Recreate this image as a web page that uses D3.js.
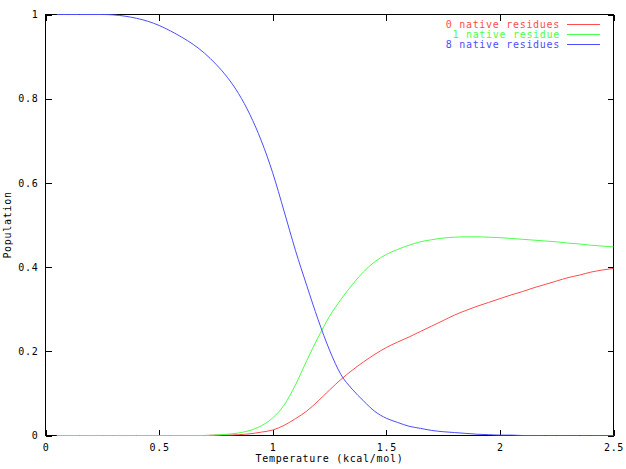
<!DOCTYPE html>
<html>
<head>
<meta charset="utf-8">
<script src="https://cdn.jsdelivr.net/npm/d3@7"></script>
<style>
  html, body { margin: 0; padding: 0; background: #fff; }
  svg { display: block; }
  text { font-family: "DejaVu Sans Mono", "Liberation Mono", monospace; font-size: 10px; letter-spacing: 0.7px; }
</style>
</head>
<body>
<svg id="chart" width="626" height="469"></svg>
<script>
// ---- data ----
const temperatures = [0.05,0.10,0.15,0.20,0.25,0.30,0.35,0.40,0.45,0.50,
  0.55,0.60,0.65,0.70,0.75,0.80,0.85,0.90,0.95,1.00,
  1.05,1.10,1.15,1.20,1.25,1.30,1.35,1.40,1.45,1.50,
  1.55,1.60,1.65,1.70,1.75,1.80,1.85,1.90,1.95,2.00,
  2.05,2.10,2.15,2.20,2.25,2.30,2.35,2.40,2.45,2.50];

const native0 = [0,0,0,0,0,0,0,0,0,0,
  0,0,0,0,0.001,0.001,0.002,0.004,0.008,0.013,
  0.024,0.040,0.058,0.082,0.108,0.133,0.155,0.175,0.193,0.209,
  0.222,0.234,0.247,0.260,0.273,0.286,0.297,0.307,0.316,0.325,
  0.334,0.342,0.351,0.359,0.367,0.375,0.381,0.388,0.393,0.397];

const native1 = [0,0,0,0,0,0,0,0,0,0,
  0,0,0,0,0.001,0.003,0.006,0.012,0.023,0.042,
  0.072,0.120,0.178,0.233,0.283,0.323,0.358,0.389,0.413,0.430,
  0.442,0.452,0.460,0.465,0.469,0.471,0.472,0.472,0.471,0.470,
  0.468,0.466,0.464,0.462,0.460,0.457,0.455,0.452,0.450,0.448];

const native8 = [1,1,1,1,1,0.999,0.996,0.991,0.984,0.974,
  0.961,0.946,0.929,0.908,0.882,0.851,0.812,0.762,0.700,0.624,
  0.533,0.440,0.356,0.275,0.203,0.145,0.110,0.082,0.057,0.041,
  0.031,0.022,0.017,0.012,0.009,0.007,0.005,0.003,0.002,0.001,
  0.001,0,0,0,0,0,0,0,0,0];

const seriesNames = ["0 native residues", "1 native residue", "8 native residues"];
const seriesColors = ["#ff4d4d", "#4dff4d", "#4d4dff"];
const seriesValues = [native0, native1, native8];

const xTicks = [0, 0.5, 1, 1.5, 2, 2.5];
const xTickLabels = ["0", "0.5", "1", "1.5", "2", "2.5"];
const yTicks = [0, 0.2, 0.4, 0.6, 0.8, 1];
const yTickLabels = ["0", "0.2", "0.4", "0.6", "0.8", "1"];

const xTitle = "Temperature (kcal/mol)";
const yTitle = "Population";

// ---- drawing ----
const svg = d3.select("#chart");
const x = d3.scaleLinear().domain([0, 2.5]).range([45.5, 613.5]);
const y = d3.scaleLinear().domain([0, 1]).range([435.5, 14.5]);

const tickLen = 6;

// bottom axis with labels
const xAxis = d3.axisBottom(x).tickValues(xTicks)
  .tickFormat((d, i) => xTickLabels[i]).tickSizeInner(-tickLen).tickSizeOuter(0).tickPadding(8.5);
const gx = svg.append("g").attr("transform", `translate(0,${y(0)})`).call(xAxis);
// top mirror
const gxt = svg.append("g").attr("transform", `translate(0,${y(1)})`)
  .call(d3.axisTop(x).tickValues(xTicks).tickFormat("").tickSizeInner(-tickLen).tickSizeOuter(0));
// left axis with labels
const yAxis = d3.axisLeft(y).tickValues(yTicks)
  .tickFormat((d, i) => yTickLabels[i]).tickSizeInner(-tickLen).tickSizeOuter(0).tickPadding(7);
const gy = svg.append("g").attr("transform", `translate(${x(0)},0)`).call(yAxis);
// right mirror
const gyr = svg.append("g").attr("transform", `translate(${x(2.5)},0)`)
  .call(d3.axisRight(y).tickValues(yTicks).tickFormat("").tickSizeInner(-tickLen).tickSizeOuter(0));

[gx, gxt, gy, gyr].forEach(g => {
  g.select(".domain").remove();
  g.selectAll(".tick line").attr("stroke", "#000").attr("shape-rendering", "crispEdges");
  g.selectAll("text").attr("fill", "#000")
    .style("font-family", "\"DejaVu Sans Mono\", monospace").style("font-size", "10px");
});

// frame
svg.append("rect")
  .attr("x", x(0)).attr("y", y(1))
  .attr("width", x(2.5) - x(0)).attr("height", y(0) - y(1))
  .attr("fill", "none").attr("stroke", "#000").attr("stroke-width", 1)
  .attr("shape-rendering", "crispEdges");

// lines
const line = d3.line()
  .x((d, i) => x(temperatures[i]))
  .y(d => y(d))
  .curve(d3.curveMonotoneX);

seriesValues.forEach((vals, k) => {
  svg.append("path")
    .datum(vals)
    .attr("d", line)
    .attr("fill", "none")
    .attr("stroke", seriesColors[k])
    .attr("stroke-width", 1);
});

// legend
const legendY = [24, 34, 44];
seriesNames.forEach((name, k) => {
  svg.append("text")
    .attr("x", 560).attr("y", legendY[k] + 3.5)
    .attr("text-anchor", "end")
    .attr("fill", seriesColors[k])
    .text(name);
  svg.append("line")
    .attr("x1", 567).attr("x2", 600)
    .attr("y1", legendY[k] + 0.5).attr("y2", legendY[k] + 0.5)
    .attr("stroke", seriesColors[k]).attr("stroke-width", 1)
    .attr("shape-rendering", "crispEdges");
});

// axis titles
svg.append("text")
  .attr("x", (x(0) + x(2.5)) / 2).attr("y", 462)
  .attr("text-anchor", "middle").attr("fill", "#000")
  .text(xTitle);
svg.append("text")
  .attr("transform", `translate(10.5,${(y(0) + y(1)) / 2}) rotate(-90)`)
  .attr("text-anchor", "middle").attr("fill", "#000")
  .text(yTitle);
</script>
</body>
</html>
